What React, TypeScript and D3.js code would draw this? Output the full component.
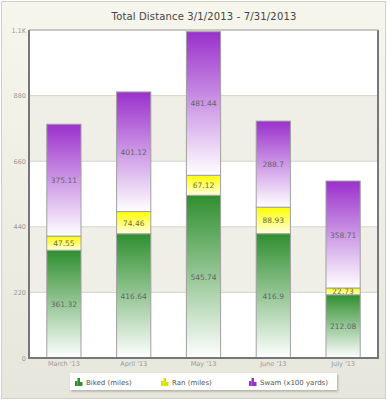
import React from "react";
import * as d3 from "d3";

const categories = ["March '13", "April '13", "May '13", "June '13", "July '13"];
const biked = [361.32, 416.64, 545.74, 416.9, 212.08];
const ran = [47.55, 74.46, 67.12, 88.93, 22.73];
const swam = [375.11, 401.12, 481.44, 288.7, 358.71];
const seriesNames = ["Biked (miles)", "Ran (miles)", "Swam (x100 yards)"];
const yTicks = [0, 220, 440, 660, 880, 1100];
const yTickLabels = ["0", "220", "440", "660", "880", "1.1K"];

const W = 387, H = 400;
const L = 29, R = 378, T = 30, B = 358;
const FONT = "DejaVu Sans, Verdana, sans-serif";

const colors = [
  { top: "#2f8f2f", bottom: "#ffffff" },
  { top: "#ffff00", bottom: "#ffffe0" },
  { top: "#9a30cc", bottom: "#ffffff" },
];

export default function App() {
  const x = d3.scaleBand().domain(categories).range([L, R]).paddingInner(0.51).paddingOuter(0.255);
  const y = d3.scaleLinear().domain([0, 1100]).range([B, T]);
  const series = [biked, ran, swam];
  const rows = categories.map((c, i) => ({ cat: c, b: biked[i], r: ran[i], s: swam[i] }));
  const stack = d3.stack<any>().keys(["b", "r", "s"])(rows);

  const bands = yTicks.slice(0, -1).map((t, i) => ({ y0: t, y1: yTicks[i + 1], gray: i % 2 === 1 }));

  return (
    <svg width={W} height={H} style={{ position: "absolute", left: 0, top: 0 }} fontFamily={FONT}>
      <defs>
        <linearGradient id="bg" x1="0" y1="0" x2="0" y2="1">
          <stop offset="0" stopColor="#f6f6ec" />
          <stop offset="1" stopColor="#e6e6dc" />
        </linearGradient>
        {colors.map((c, i) => (
          <linearGradient key={i} id={`g${i}`} x1="0" y1="0" x2="0" y2="1">
            <stop offset="0" stopColor={c.top} />
            <stop offset="1" stopColor={c.bottom} />
          </linearGradient>
        ))}
        <filter id="sh" x="-5%" y="-20%" width="110%" height="160%">
          <feDropShadow dx="1" dy="1.5" stdDeviation="1" floodColor="#000" floodOpacity="0.25" />
        </filter>
      </defs>
      <rect x={1.5} y={1.5} width={W - 3} height={H - 3} fill="url(#bg)" stroke="#d0d0c6" />
      <text x={204} y={20} textAnchor="middle" fontSize={10} fill="#444" letterSpacing={0.15}>
        Total Distance 3/1/2013 - 7/31/2013
      </text>
      {bands.map((b, i) => (
        <rect key={i} x={L} y={y(b.y1)} width={R - L} height={y(b.y0) - y(b.y1)} fill={b.gray ? "#efefe8" : "#ffffff"} />
      ))}
      {yTicks.map((t, i) => (
        <line key={i} x1={L} x2={R} y1={y(t)} y2={y(t)} stroke="#d4d4cc" strokeWidth={1} />
      ))}
      {stack.map((s, si) =>
        s.map((d, di) => {
          const y0 = y(d[0]), y1 = y(d[1]);
          const xx = x(categories[di])!;
          return (
            <g key={`${si}-${di}`}>
              <rect x={xx} y={y1} width={x.bandwidth()} height={y0 - y1} fill={`url(#g${si})`} stroke="#a0a0a0" strokeWidth={1} />
              <text x={xx + x.bandwidth() / 2} y={(y0 + y1) / 2 + 3} textAnchor="middle" fontSize={7.5} fill={si === 1 ? "#6e6e30" : "#666"}>
                {String(series[si][di])}
              </text>
            </g>
          );
        })
      )}
      <path d={`M${L},${T} V${B} H${R} V${T}`} fill="none" stroke="#777" strokeWidth={2} />
      <line x1={L} x2={R} y1={T} y2={T} stroke="#aaa" strokeWidth={1} />
      {yTicks.map((t, i) => (
        <text key={i} x={L - 3} y={y(t) + 2.5} textAnchor="end" fontSize={6.5} fill="#999">
          {yTickLabels[i]}
        </text>
      ))}
      {categories.map((c) => (
        <text key={c} x={x(c)! + x.bandwidth() / 2} y={366} textAnchor="middle" fontSize={6.5} fill="#999">
          {c}
        </text>
      ))}
      <rect x={70} y={373} width={267} height={17} fill="#fff" filter="url(#sh)" />
      {seriesNames.map((n, i) => {
        const ox = [75, 161, 249][i];
        const col = ["#2f8f2f", "#e0e000", "#9a30cc"][i];
        return (
          <g key={n}>
            <rect x={ox} y={381} width={2.5} height={5} fill={col} />
            <rect x={ox + 2.5} y={378} width={2.5} height={8} fill={col} />
            <rect x={ox + 5} y={382} width={2.5} height={4} fill={col} />
            <text x={ox + 11} y={385} fontSize={7} fill="#555">{n}</text>
          </g>
        );
      })}
    </svg>
  );
}
